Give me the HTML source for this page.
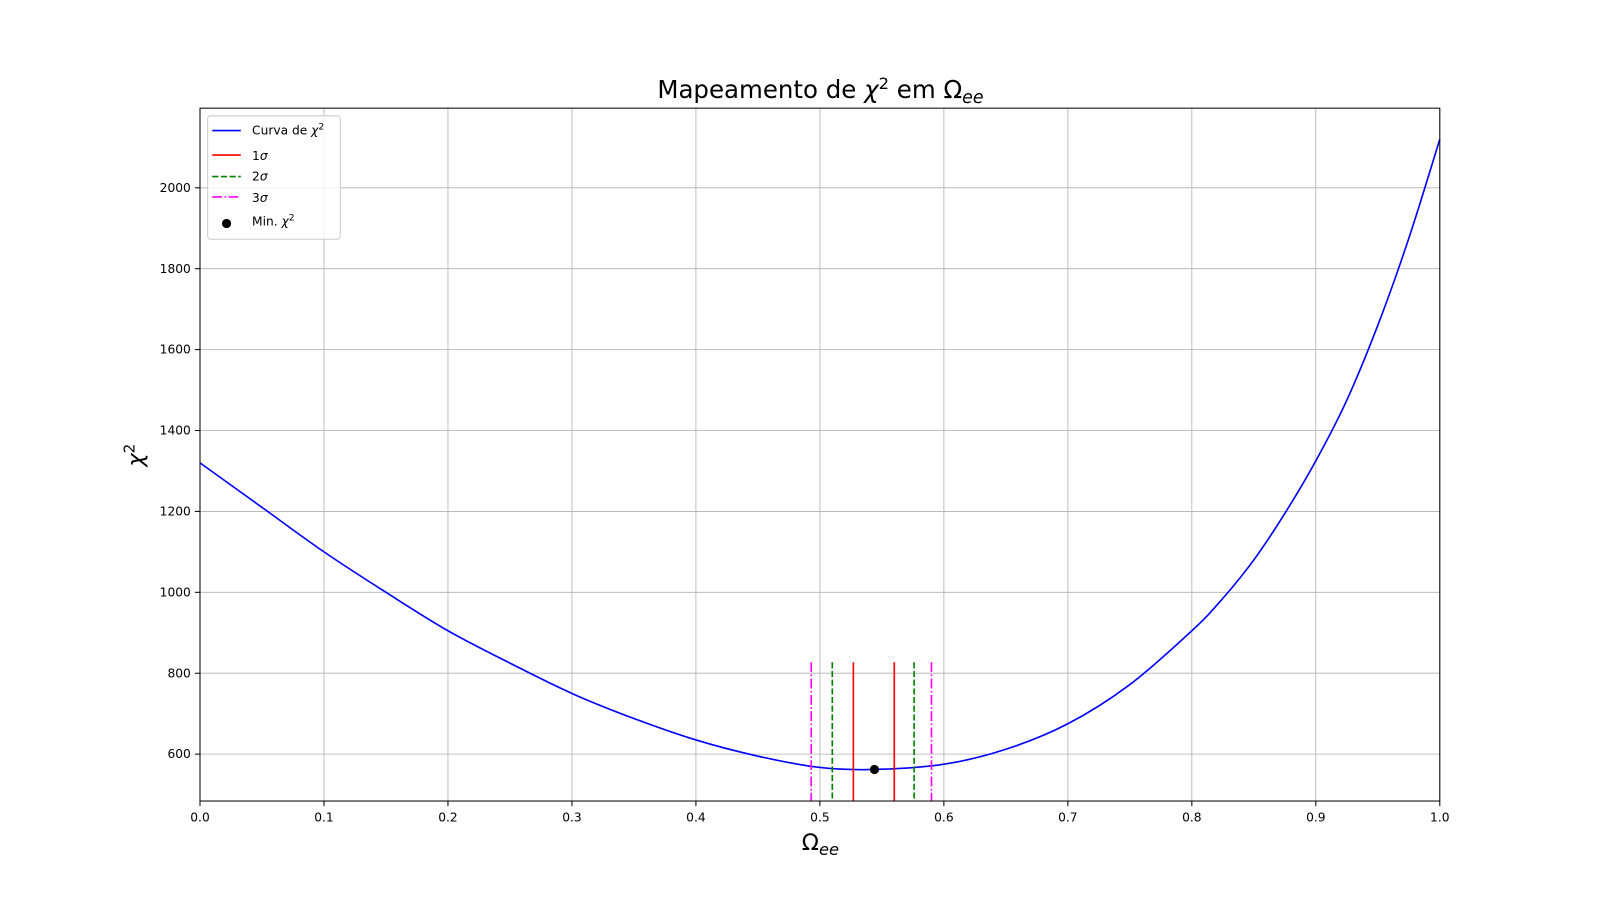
<!DOCTYPE html>
<html><head><meta charset="utf-8"><style>
html,body{margin:0;background:#fff;overflow:hidden;width:1600px;height:900px;}
svg{display:block;font-family:"DejaVu Sans","Liberation Sans",sans-serif;}
</style></head><body>
<svg id="chart" width="1600" height="900" viewBox="0 0 1568 882" style="position:absolute;left:0;top:0"></svg>
<script>
const xs=[0,0.05,0.1,0.15,0.2,0.25,0.3,0.35,0.4,0.45,0.5,0.544,0.6,0.65,0.7,0.75,0.8,0.825,0.85,0.875,0.9,0.925,0.95,0.975,1.0];
const chi2=[1320,1210,1100,1000,905,825,750,688,635,595,567,562,575,612,675,772,905,985,1080,1195,1325,1475,1660,1875,2120];
const sigma1=[0.527,0.560];
const sigma2=[0.510,0.576];
const sigma3=[0.493,0.590];
const sigmaTop=827;
const minX=0.544, minY=562;
const xTicks=[0,0.1,0.2,0.3,0.4,0.5,0.6,0.7,0.8,0.9,1.0];
const xTickLabels=["0.0","0.1","0.2","0.3","0.4","0.5","0.6","0.7","0.8","0.9","1.0"];
const yTicks=[600,800,1000,1200,1400,1600,1800,2000];

const L=196,R=1411,T=106,B=785;
const X=v=>L+(R-L)*v;
const Y=v=>976.9-v*0.39643;
const svg=document.getElementById('chart');
const NS='http://www.w3.org/2000/svg';
function mk(tag,attrs,parent){const e=document.createElementNS(NS,tag);for(const k in attrs)e.setAttribute(k,attrs[k]);(parent||svg).appendChild(e);return e;}

const grid=mk('g',{});


xTicks.forEach((t,i)=>{
  mk('line',{x1:X(t),x2:X(t),y1:T,y2:B,stroke:'#b0b0b0','stroke-width':0.8},grid);
  mk('line',{x1:X(t),x2:X(t),y1:B,y2:B+5,stroke:'#000'});
  const tx=mk('text',{x:X(t),y:B+20,'text-anchor':'middle','font-size':12});
  tx.textContent=xTickLabels[i];
  
  
});
yTicks.forEach(t=>{
  mk('line',{x1:L,x2:R,y1:Y(t),y2:Y(t),stroke:'#b0b0b0','stroke-width':0.8},grid);
  mk('line',{x1:L-5,x2:L,y1:Y(t),y2:Y(t),stroke:'#000'});
  const tx=mk('text',{x:L-9,y:Y(t)+4,'text-anchor':'end','font-size':12});
  tx.textContent=t;
  
  
});

const pts=xs.map((x,i)=>[X(x),Y(chi2[i])]);
let d='M'+pts[0][0]+','+pts[0][1];
for(let i=0;i<pts.length-1;i++){
  const p0=pts[Math.max(0,i-1)],p1=pts[i],p2=pts[i+1],p3=pts[Math.min(pts.length-1,i+2)];
  d+=` C${p1[0]+(p2[0]-p0[0])/6},${p1[1]+(p2[1]-p0[1])/6} ${p2[0]-(p3[0]-p1[0])/6},${p2[1]-(p3[1]-p1[1])/6} ${p2[0]},${p2[1]}`;
}
const curve=mk('path',{d:d,fill:'none',stroke:'#0000ff','stroke-width':1.6});



function vl(v,color,dash,name){
  const l=mk('line',{x1:X(v),x2:X(v),y1:Y(sigmaTop),y2:B,stroke:color,'stroke-width':1.6});
  if(dash)l.setAttribute('stroke-dasharray',dash);
  
  
}
sigma1.forEach(v=>vl(v,'#ff0000',null,'sigma1-line'));
sigma2.forEach(v=>vl(v,'#008000','6,2.5','sigma2-line'));
sigma3.forEach(v=>vl(v,'#ff00ff','9.6,2.4,1.6,2.4','sigma3-line'));
const mp=mk('circle',{cx:X(minX),cy:Y(minY),r:4.5,fill:'#000'});



mk('rect',{x:L,y:T,width:R-L,height:B-T,fill:'none',stroke:'#000','stroke-width':1});
</script>
<svg style="position:absolute;left:0;top:0" width="1600" height="900" viewBox="0 0 1568 882">
<text x="804" y="96" text-anchor="middle" font-size="24">Mapeamento de <tspan font-style="italic">χ</tspan><tspan dy="-9" font-size="16">2</tspan><tspan dy="9"> em Ω</tspan><tspan dy="5" font-size="17" font-style="italic">ee</tspan></text>
<text x="804" y="833" text-anchor="middle" font-size="22">Ω<tspan dy="5" font-size="16" font-style="italic">ee</tspan></text>
<text transform="translate(140,446) rotate(-90)" text-anchor="middle" font-size="22"><tspan font-style="italic">χ</tspan><tspan dy="-8" font-size="15">2</tspan></text>
<g>
<rect x="203.5" y="113.5" width="130" height="121" rx="3" fill="#fff" fill-opacity="0.8" stroke="#ccc"/>
<line x1="208" x2="236" y1="128" y2="128" stroke="#0000ff" stroke-width="1.6"/>
<text x="247" y="132" font-size="12">Curva de <tspan font-style="italic">χ</tspan><tspan dy="-5" font-size="9">2</tspan></text>
<line x1="208" x2="236" y1="152" y2="152" stroke="#ff0000" stroke-width="1.6"/>
<text x="247" y="157" font-size="12">1<tspan font-style="italic">σ</tspan></text>
<line x1="208" x2="236" y1="173" y2="173" stroke="#008000" stroke-width="1.6" stroke-dasharray="6,2.5"/>
<text x="247" y="177" font-size="12">2<tspan font-style="italic">σ</tspan></text>
<line x1="208" x2="236" y1="193" y2="193" stroke="#ff00ff" stroke-width="1.6" stroke-dasharray="9.6,2.4,1.6,2.4"/>
<text x="247" y="198" font-size="12">3<tspan font-style="italic">σ</tspan></text>
<circle cx="222" cy="219" r="4.5" fill="#000"/>
<text x="247" y="221" font-size="12">Min. <tspan font-style="italic">χ</tspan><tspan dy="-5" font-size="9">2</tspan></text>
</g>
</svg>
</body></html>
